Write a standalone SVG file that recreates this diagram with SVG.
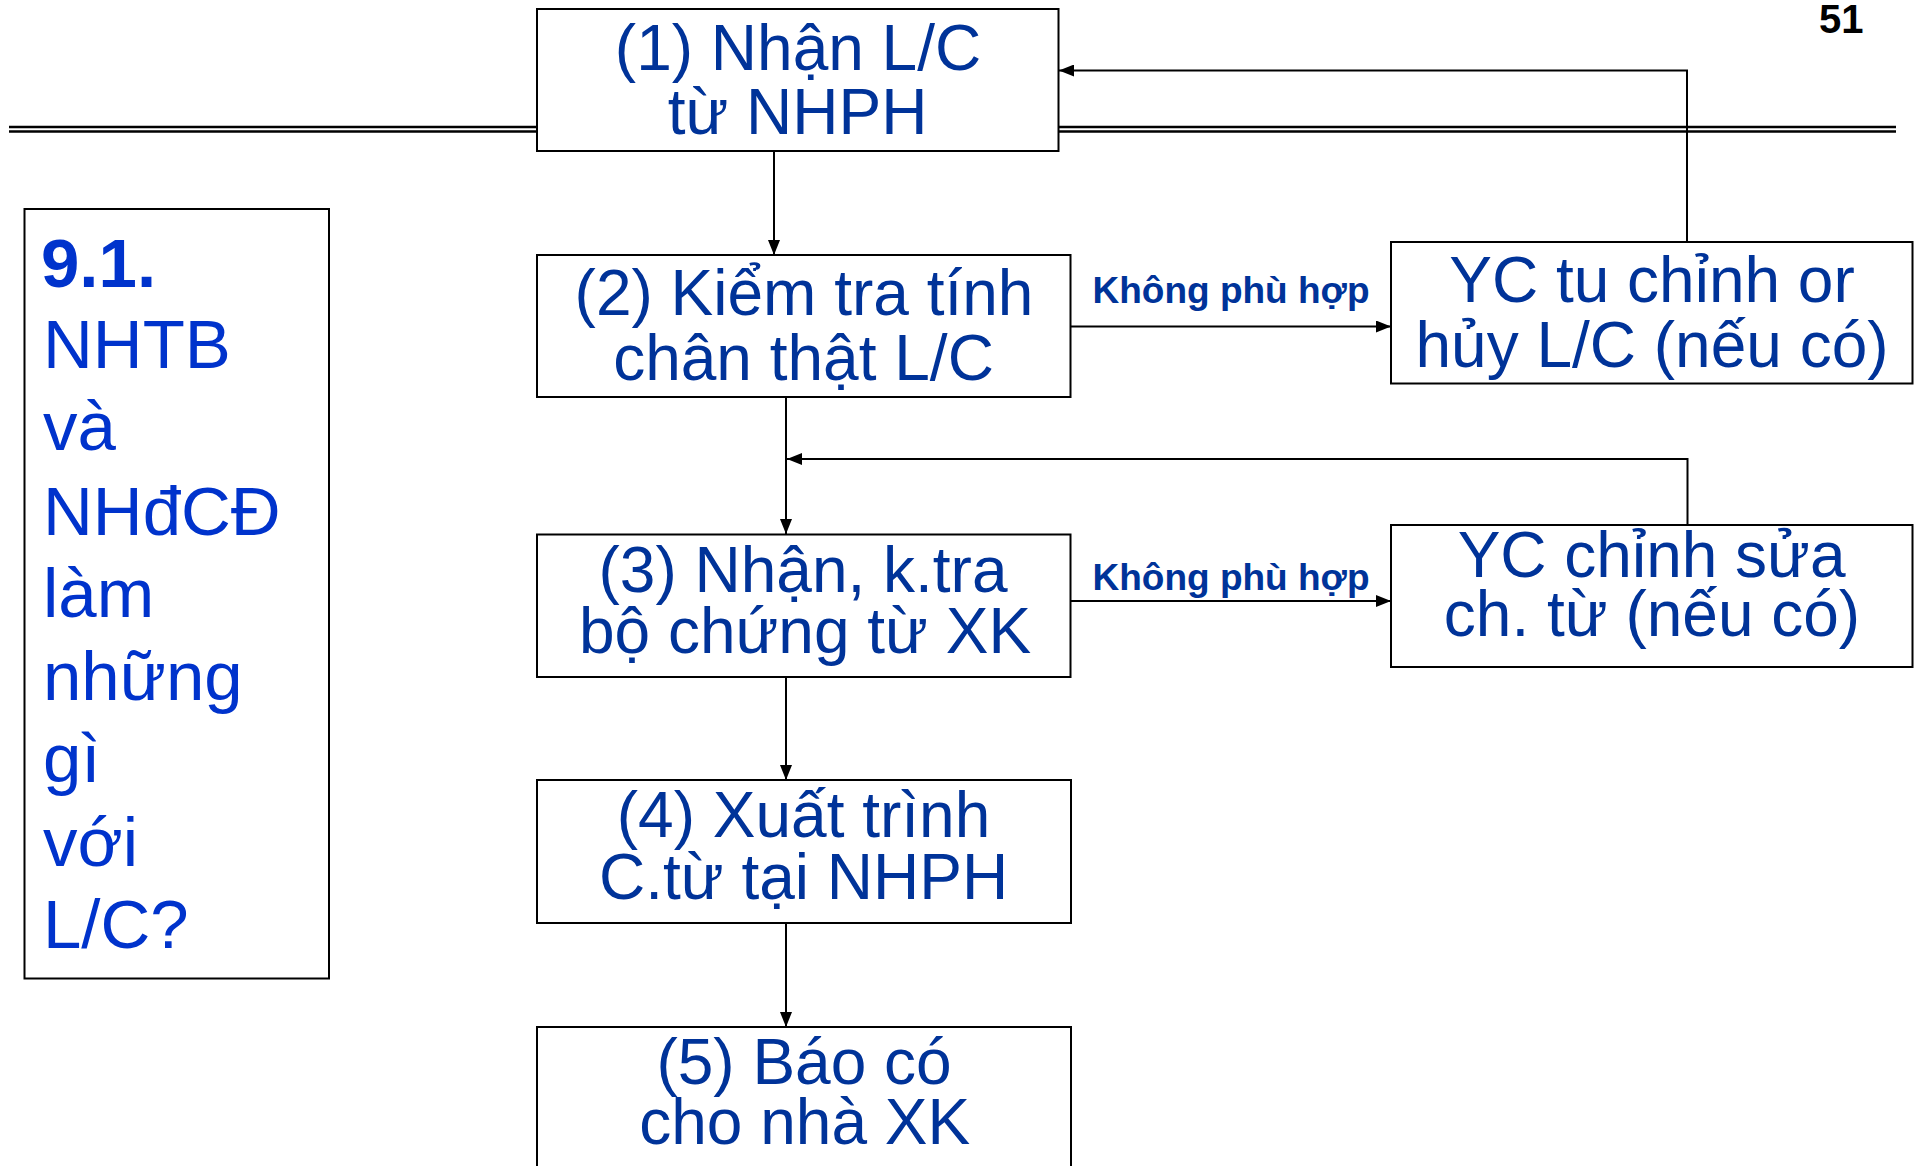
<svg xmlns="http://www.w3.org/2000/svg" width="1918" height="1166" viewBox="0 0 1918 1166">
  <style>
    .box { fill: #ffffff; stroke: #000000; stroke-width: 2; }
    .step { font-family: "Liberation Sans", Arial, sans-serif; font-size: 64px; fill: #003399; text-anchor: middle; }
    .cond { font-family: "Liberation Sans", Arial, sans-serif; font-size: 37px; font-weight: bold; fill: #003399; text-anchor: middle; }
    .side { font-family: "Liberation Sans", Arial, sans-serif; font-size: 69px; fill: #0033CC; }
    .wire { fill: none; stroke: #000000; stroke-width: 2; }
    .rule { stroke: #000000; stroke-width: 2.5; }
  </style>
  <defs>
    <marker id="head" viewBox="0 0 15 12" refX="15" refY="6" markerWidth="15" markerHeight="12" markerUnits="userSpaceOnUse" orient="auto">
      <path d="M0,0 L15,6 L0,12 Z" fill="#000000"/>
    </marker>
  </defs>

  <rect width="1918" height="1166" fill="#ffffff"/>

  <!-- page number -->
  <text x="1819" y="33" font-family="'Liberation Sans', Arial, sans-serif" font-size="40" font-weight="bold" fill="#000000">51</text>

  <!-- title rule (double line) -->
  <g id="title-rule">
    <line class="rule" x1="9" y1="127" x2="1896" y2="127"/>
    <line class="rule" x1="9" y1="131.5" x2="1896" y2="131.5"/>
  </g>

  <!-- connectors -->
  <g id="connectors">
    <line class="wire" x1="774" y1="151" x2="774" y2="255" marker-end="url(#head)"/>
    <line class="wire" x1="786" y1="397" x2="786" y2="534" marker-end="url(#head)"/>
    <line class="wire" x1="786" y1="677" x2="786" y2="780" marker-end="url(#head)"/>
    <line class="wire" x1="786" y1="923" x2="786" y2="1027" marker-end="url(#head)"/>
    <line class="wire" x1="1071" y1="326.5" x2="1391" y2="326.5" marker-end="url(#head)"/>
    <line class="wire" x1="1071" y1="601" x2="1391" y2="601" marker-end="url(#head)"/>
    <polyline class="wire" points="1687,242 1687,70.5 1059,70.5" marker-end="url(#head)"/>
    <polyline class="wire" points="1687.5,525 1687.5,459 787,459" marker-end="url(#head)"/>
    <text class="cond" x="1231" y="303">Không phù hợp</text>
    <text class="cond" x="1231" y="590">Không phù hợp</text>
  </g>

  <!-- side question panel -->
  <g id="question">
    <rect class="box" x="24.5" y="209" width="304.5" height="769.5"/>
    <text class="side" x="41" y="287" font-weight="bold">9.1.</text>
    <text class="side" x="43" y="368">NHTB</text>
    <text class="side" x="43" y="450">và</text>
    <text class="side" x="43" y="535">NHđCĐ</text>
    <text class="side" x="43" y="617">làm</text>
    <text class="side" x="43" y="700">những</text>
    <text class="side" x="43" y="782">gì</text>
    <text class="side" x="43" y="866">với</text>
    <text class="side" x="43" y="948">L/C?</text>
  </g>

  <g id="step1">
    <rect class="box" x="537" y="9" width="521.5" height="142"/>
    <text class="step" x="798" y="70">(1) Nhận L/C</text>
    <text class="step" x="797.5" y="134">từ NHPH</text>
  </g>

  <g id="step2">
    <rect class="box" x="537" y="255" width="533.5" height="142"/>
    <text class="step" x="804" y="315">(2) Kiểm tra tính</text>
    <text class="step" x="803.5" y="380">chân thật L/C</text>
  </g>

  <g id="amend-lc">
    <rect class="box" x="1391" y="242" width="521.5" height="141.5"/>
    <text class="step" x="1652" y="302">YC tu chỉnh or</text>
    <text class="step" x="1652" y="367">hủy L/C (nếu có)</text>
  </g>

  <g id="step3">
    <rect class="box" x="537" y="534.5" width="533.5" height="142.5"/>
    <text class="step" x="803" y="592">(3) Nhận, k.tra</text>
    <text class="step" x="805" y="653">bộ chứng từ XK</text>
  </g>

  <g id="fix-docs">
    <rect class="box" x="1391" y="525" width="521.5" height="142"/>
    <text class="step" x="1651.6" y="577">YC chỉnh sửa</text>
    <text class="step" x="1652" y="636">ch. từ (nếu có)</text>
  </g>

  <g id="step4">
    <rect class="box" x="537" y="780" width="534" height="143"/>
    <text class="step" x="803.5" y="837">(4) Xuất trình</text>
    <text class="step" x="803.6" y="899">C.từ tại NHPH</text>
  </g>

  <g id="step5">
    <rect class="box" x="537" y="1027" width="534" height="180"/>
    <text class="step" x="804" y="1084">(5) Báo có</text>
    <text class="step" x="804.7" y="1144">cho nhà XK</text>
  </g>
</svg>
